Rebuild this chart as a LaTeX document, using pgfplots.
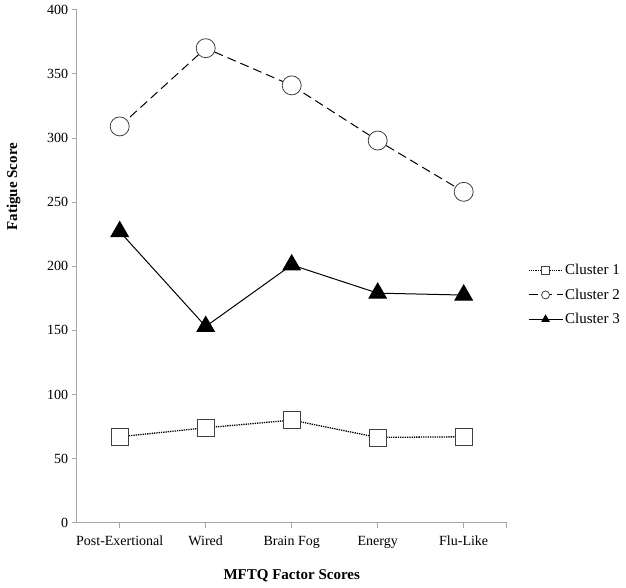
\documentclass[border=0pt]{standalone}
\usepackage{pgfplots}
\pgfplotsset{compat=1.18}
\usepackage{fontspec}
\setmainfont{Liberation Serif}
\begin{document}
\begin{tikzpicture}
\begin{axis}[
  scale only axis, width=430pt, height=513pt,
  xmin=-0.5, xmax=4.5, ymin=0, ymax=400,
  xtick={0,1,2,3,4},
  xticklabels={Post-Exertional,Wired,Brain Fog,Energy,Flu-Like},
  extra x ticks={4.5}, extra x tick labels={},
  extra x tick style={grid=none},
  ytick={0,50,...,400},
  axis x line=bottom, axis y line=left,
  axis line style={-, draw=black!35, line width=0.8pt},
  tick style={draw=black!35, line width=0.8pt},
  tick align=outside, major tick length=5pt,
  tick label style={font=\fontsize{14}{16}\selectfont, black},
  xticklabel style={yshift=-5pt},
  /pgf/number format/assume math mode=true,
  xlabel={MFTQ Factor Scores},
  ylabel={Fatigue Score},
  xlabel style={at={(rel axis cs:0.5,0)}, anchor=center, yshift=-53pt, font=\fontsize{15}{17}\selectfont\bfseries},
  ylabel style={at={(rel axis cs:0,0.655)}, anchor=center, yshift=63pt, font=\fontsize{15}{17}\selectfont\bfseries},
  legend style={at={(rel axis cs:1,0.444)}, xshift=18pt, anchor=west, draw=none,
    font=\fontsize{15}{17}\selectfont, row sep=8.5pt},
  legend cell align=left,
  legend image code/.code={\draw[mark repeat=2, mark phase=2, #1, mark size=4pt] plot coordinates {(0pt,0pt)(17pt,0pt)(34pt,0pt)};},
]
\coordinate (o) at (rel axis cs:0,0);
\addplot[black, densely dotted, line width=1.3pt, mark=square*, mark size=8.5pt,
  mark options={solid, fill=white, draw=black!75, line width=0.8pt}]
  coordinates {(0,67) (1,74) (2,80) (3,66.5) (4,67)};
\addlegendentry{Cluster 1}
\addplot[black, dash pattern=on 9pt off 5pt, line width=1pt, mark=*, mark size=9.5pt,
  mark options={solid, fill=white, draw=black!75, line width=0.8pt}]
  coordinates {(0,309) (1,370) (2,341) (3,298) (4,258)};
\addlegendentry{Cluster 2}
\addplot[black, line width=1pt, mark=triangle*, mark size=10pt,
  mark options={solid, fill=black}]
  coordinates {(0,227) (1,153) (2,201) (3,179) (4,177.5)};
\addlegendentry{Cluster 3}
\end{axis}
\path (o) ++(-76.7pt,-64.3pt) rectangle ++(626pt,587pt);
\end{tikzpicture}
\end{document}
